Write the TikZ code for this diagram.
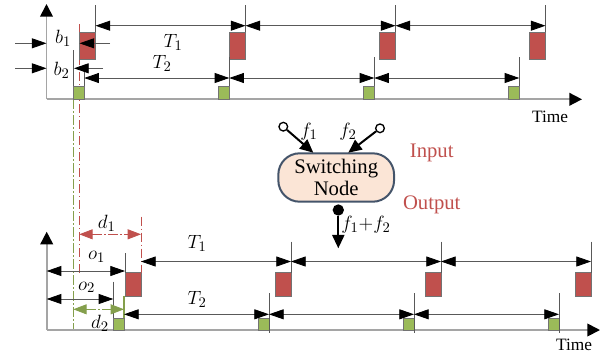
\documentclass[tikz,border=0pt]{standalone}
\usepackage{fontspec}
\setmainfont{Liberation Serif}
\usetikzlibrary{arrows.meta}

\definecolor{slotred}{RGB}{192,80,77}
\definecolor{slotgreen}{RGB}{155,187,89}
\definecolor{nodefill}{RGB}{251,229,214}
\definecolor{nodeedge}{RGB}{68,84,106}
\definecolor{axisgray}{RGB}{165,165,165}

\tikzset{every picture/.style={line width=0.75pt},
  axis/.style={draw=axisgray, line width=1.3pt, -{Triangle[length=9.5pt,width=9.5pt,color=black]}},
  period/.style={draw=black!65, line width=0.6pt, {Triangle[length=11pt,width=7.5pt,color=black]}-{Triangle[length=11pt,width=7.5pt,color=black]}},
  pointer/.style={draw=black!65, line width=0.6pt, -{Triangle[length=11pt,width=7.5pt,color=black]}},
  mark line/.style={draw=black!65, line width=0.6pt},
  redslot/.style={fill=slotred, draw=black!55, line width=0.5pt},
  greenslot/.style={fill=slotgreen, draw=black!55, line width=0.5pt},
  reddash/.style={draw=slotred, line width=0.6pt, dash pattern=on 7pt off 2pt on 1pt off 2pt},
  greendash/.style={draw=slotgreen!85!black, line width=0.6pt, dash pattern=on 7pt off 2pt on 1pt off 2pt},
  reddim/.style={reddash, {Triangle[length=10pt,width=7.5pt]}-{Triangle[length=10pt,width=7.5pt]}},
  greendim/.style={greendash, {Triangle[length=10pt,width=7.5pt]}-{Triangle[length=10pt,width=7.5pt]}},
  lab/.style={inner sep=0.75pt, font=\fontsize{15}{18}\selectfont},
  timelab/.style={inner sep=0.75pt, font=\fontsize{13}{15}\selectfont},
  redtxt/.style={inner sep=0.75pt, text=slotred, font=\fontsize{15.5}{18}\selectfont},
  swnode/.style={draw=nodeedge, fill=nodefill, line width=1.5pt, rounded corners=16pt,
    minimum width=86.8pt, minimum height=36.3pt, inner sep=0pt, align=center,
    font=\fontsize{15.5}{16.5}\selectfont},
  inport/.style={circle, draw, line width=1pt, fill=white, inner sep=0pt, minimum size=6.5pt},
  outport/.style={circle, fill=black, inner sep=0pt, minimum size=8.5pt},
  flow/.style={line width=1.5pt, -{Triangle[length=10pt,width=9pt]}}
}

\begin{document}
\begin{tikzpicture}[x=0.75pt,y=0.75pt,yscale=-1,xscale=1]
\useasboundingbox (0,0) rectangle (606,358);

%Long guide lines
\draw[reddash] (79.3,24) -- (79.3,273);
\draw[greendash] (73.3,99.3) -- (73.3,330);

%Top chart: axes
\draw[axis] (46.5,99.3) -- (46.5,4);
\draw[axis] (46.5,99.3) -- (582,99.3);
%Top chart: red slots
\foreach \i [evaluate=\i as \x using 95.5+150*\i] in {0,...,3}{
  \draw[redslot] (\x-16,32) rectangle (\x,59.3);
  \draw[mark line] (\x,5) -- (\x,32);
  \coordinate (tr\i) at (\x,25.7);
}
%Top chart: green slots
\foreach \i [evaluate=\i as \x using 84.3+145*\i] in {0,...,3}{
  \draw[greenslot] (\x-11,86.3) rectangle (\x,99.3);
  \coordinate (tg\i) at (\x,78);
}
\foreach \i [evaluate=\i as \x using 84.3+145*\i] in {1,2,3}
  \draw[mark line] (\x,57) -- (\x,86.3);
\draw[mark line] (84.3,66) -- (84.3,86.3);
\draw[mark line] (73.3,50) -- (73.3,86.3);
%Top chart: periods
\foreach \i/\j in {0/1,1/2,2/3}{
  \draw[period] (tr\i) -- (tr\j);
  \draw[period] (tg\i) -- (tg\j);
}
%Top chart: offsets b1, b2
\coordinate (b1l) at (15,43.3);
\coordinate (b1a) at (46.5,43.3);
\coordinate (b1r) at (110,43.3);
\coordinate (b1b) at (79.5,43.3);
\draw[pointer] (b1l) -- (b1a);
\draw[pointer] (b1r) -- (b1b);
\coordinate (b2l) at (15,68.3);
\coordinate (b2a) at (46.5,68.3);
\coordinate (b2r) at (103,68.3);
\coordinate (b2b) at (74,68.3);
\draw[pointer] (b2l) -- (b2a);
\draw[pointer] (b2r) -- (b2b);

% Text Node
\node[lab] (lb1) at (63,38.5) {$b_1$};
\node[lab] (lb2) at (61.7,70) {$b_2$};
\node[lab] (lT1) at (173,42) {$T_1$};
\node[lab] (lT2) at (162,63.5) {$T_2$};
\node[timelab] (ltime1) at (550,117) {Time};

%Switching node
\node[swnode] (sw) at (336.2,177.5) {Switching\\Node};
\node[inport] (in1) at (283.3,126.7) {};
\node[inport] (in2) at (380,128.3) {};
\coordinate (in1end) at (313.3,152.7);
\coordinate (in2end) at (348.3,152.7);
\draw[flow] (in1) -- (in1end);
\draw[flow] (in2) -- (in2end);
\node[outport] (out) at (338.3,210) {};
\coordinate (outend) at (338.3,248.3);
\draw[flow] (out) -- (outend);
\node[lab] (lf1) at (309,131.7) {$f_1$};
\node[lab] (lf2) at (348,132) {$f_2$};
\node[lab] (lf12) at (366,225) {$f_1{+}f_2$};
\node[redtxt] (lin) at (431.7,153.3) {Input};
\node[redtxt] (lout) at (431.7,205) {Output};

%Bottom chart: axes
\draw[axis] (46.7,330) -- (46.7,231.7);
\draw[axis] (46.7,330) -- (600,330);
%Bottom chart: red slots
\foreach \i [evaluate=\i as \x using 141+150*\i] in {0,...,3}{
  \draw[redslot] (\x-16,272.7) rectangle (\x,296.7);
  \coordinate (br\i) at (\x,261.5);
}
\foreach \i [evaluate=\i as \x using 141+150*\i] in {1,2,3}
  \draw[mark line] (\x,241.7) -- (\x,272.7);
\draw[mark line] (125,253) -- (125,272.7);
\draw[reddash] (141,216.7) -- (141,272.7);
%Bottom chart: green slots
\foreach \i [evaluate=\i as \x using 124+145*\i] in {0,...,3}{
  \draw[greenslot] (\x-11,318.3) rectangle (\x,330);
  \coordinate (bg\i) at (\x,314.3);
}
\foreach \i [evaluate=\i as \x using 124+145*\i] in {1,2,3}
  \draw[mark line] (\x,293.3) -- (\x,333);
\draw[mark line] (113.3,281.7) -- (113.3,318.3);
\draw[draw=slotgreen!85!black, line width=0.8pt] (124,295.7) -- (124,318.3);
%Bottom chart: periods
\foreach \i/\j in {0/1,1/2,2/3}{
  \draw[period] (br\i) -- (br\j);
  \draw[period] (bg\i) -- (bg\j);
}
%Bottom chart: offsets and delays
\coordinate (o1a) at (46.7,271);
\coordinate (o1b) at (125,271);
\draw[period] (o1a) -- (o1b);
\coordinate (o2a) at (46.7,299);
\coordinate (o2b) at (113.3,299);
\draw[period] (o2a) -- (o2b);
\coordinate (d1a) at (79.3,234.3);
\coordinate (d1b) at (141,234.3);
\draw[reddim] (d1a) -- (d1b);
\coordinate (d2a) at (73.3,309.3);
\coordinate (d2b) at (124,309.3);
\draw[greendim] (d2a) -- (d2b);

% Text Node
\node[lab] (lo1) at (96.7,256.7) {$o_1$};
\node[lab] (lo2) at (86.7,287.3) {$o_2$};
\node[lab] (ld1) at (106.7,223.3) {$d_1$};
\node[lab] (ld2) at (100,323.3) {$d_2$};
\node[lab] (lT1b) at (197,243) {$T_1$};
\node[lab] (lT2b) at (197,299) {$T_2$};
\node[timelab] (ltime2) at (574,345) {Time};

\end{tikzpicture}
\end{document}
